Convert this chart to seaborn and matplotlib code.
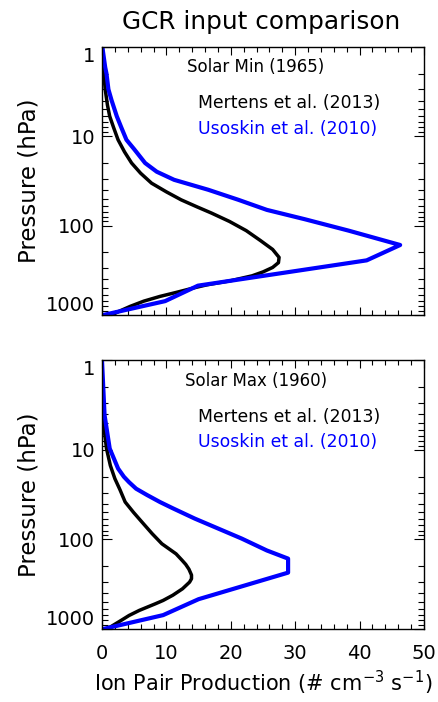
import numpy as np
import pandas as pd
import matplotlib
matplotlib.use("Agg")
import matplotlib.pyplot as plt
import seaborn as sns
from matplotlib import ticker

# Solar minimum (1965)
min_mertens_p = [1, 1.7, 3.0, 4.5, 6.0, 8.0, 11, 15, 20, 26, 33.6, 42, 51.6, 62, 72.5, 90, 114,
                 147, 185, 227, 260, 294, 330, 365, 415, 460, 493, 560, 620, 700, 800, 900, 1000]
min_mertens_ipp = [0.05, 0.2, 0.5, 0.85, 1.2, 1.8, 2.5, 3.5, 4.6, 6.0, 7.7, 10.0, 12.3, 14.8,
                   17.0, 19.8, 22.4, 24.6, 26.5, 27.5, 27.4, 26.5, 25.0, 23.3, 19.9, 16.3, 14.5,
                   11.5, 9.0, 6.5, 4.4, 2.8, 1.5]
min_usoskin_p = [1, 1.7, 2.0, 3.0, 4.0, 6.0, 8.0, 11, 14, 20, 25, 30.8, 39.8, 51.6, 66.8, 85,
                 114, 165, 245, 470, 700, 1000]
min_usoskin_ipp = [0.05, 0.5, 0.7, 1.0, 1.5, 2.3, 3.0, 3.8, 5.0, 6.7, 8.5, 11.2, 16.5, 21.2,
                   25.6, 31.5, 38.3, 46.3, 41.1, 14.9, 9.8, 0.2]

# Solar maximum (1960)
max_mertens_p = [1, 2.8, 4.1, 6.0, 9.7, 15, 21, 28, 38.3, 50, 64, 86.5, 112, 145, 170, 190,
                 215, 250, 275, 300, 356, 420, 480, 523, 620, 707, 800, 950, 1000]
max_mertens_ipp = [0, 0.05, 0.1, 0.35, 0.7, 1.3, 2.0, 2.8, 3.6, 4.9, 6.2, 7.8, 9.3, 11.5, 12.4,
                   13.0, 13.5, 13.9, 13.9, 13.6, 12.5, 11.0, 9.5, 8.3, 5.8, 4.2, 3.0, 1.3, 0.8]
max_usoskin_p = [1, 4.1, 9.7, 16.2, 20, 23, 27.2, 32, 38.3, 45, 58.6, 98, 133, 164, 235, 465,
                 700, 1000]
max_usoskin_ipp = [0, 0.4, 1.2, 2.5, 3.4, 4.2, 5.3, 7.0, 9.0, 11.0, 14.4, 21.7, 25.6, 28.9,
                   28.9, 15.0, 9.5, 0.2]

panel_titles = ["Solar Min (1965)", "Solar Max (1960)"]
y_ticks = [1, 10, 100, 1000]
x_ticks = [0, 10, 20, 30, 40, 50]

sns.set_style("ticks")
plt.rcParams["font.family"] = ["DejaVu Sans"]
plt.rcParams["text.color"] = "black"
plt.rcParams["axes.labelcolor"] = "black"
plt.rcParams["xtick.color"] = "black"
plt.rcParams["ytick.color"] = "black"

fig = plt.figure(figsize=(4.39, 7.02), dpi=100)
ax_top = fig.add_axes([0.2323, 0.5513, 0.7335, 0.3822])
ax_bot = fig.add_axes([0.2323, 0.104, 0.7335, 0.383])

panels = [
    (ax_top, min_mertens_p, min_mertens_ipp, min_usoskin_p, min_usoskin_ipp),
    (ax_bot, max_mertens_p, max_mertens_ipp, max_usoskin_p, max_usoskin_ipp),
]

for i, (ax, mp, mv, up, uv) in enumerate(panels):
    mert = pd.DataFrame({"pressure": mp, "ipp": mv})
    usos = pd.DataFrame({"pressure": up, "ipp": uv})
    sns.lineplot(data=mert, x="ipp", y="pressure", sort=False, estimator=None,
                 color="black", linewidth=2.5, ax=ax)
    sns.lineplot(data=usos, x="ipp", y="pressure", sort=False, estimator=None,
                 color="#0000ff", linewidth=3.0, ax=ax)

    ax.set_yscale("log")
    ax.set_ylim(1000, 1)
    ax.set_xlim(0, 50)
    ax.set_yticks(y_ticks)
    ax.yaxis.set_major_formatter(ticker.FuncFormatter(lambda v, pos: f"{v:g}"))
    ax.yaxis.set_minor_locator(ticker.LogLocator(base=10, subs=np.arange(2, 10)))
    ax.yaxis.set_minor_formatter(ticker.NullFormatter())
    ax.set_xticks(x_ticks)
    ax.xaxis.set_minor_locator(ticker.MultipleLocator(2))

    ax.tick_params(axis="both", which="both", direction="in", top=True, right=True,
                   width=0.8, colors="black")
    ax.tick_params(axis="y", which="major", length=7.5, labelsize=14, pad=5)
    ax.tick_params(axis="y", which="minor", length=4)
    ax.tick_params(axis="x", which="major", length=5.5, labelsize=14, pad=11)
    ax.tick_params(axis="x", which="minor", length=3.5)
    for sp in ax.spines.values():
        sp.set_linewidth(1.0)
        sp.set_color("black")

    labels = ax.get_yticklabels()
    labels[0].set_va("top")
    labels[-1].set_va("bottom")

    ax.set_ylabel("Pressure (hPa)", fontsize=16.5, labelpad=4)
    if i == 0:
        ax.set_xlabel("")
        ax.tick_params(axis="x", labelbottom=False)
    else:
        ax.set_xlabel("Ion Pair Production (# cm$^{-3}$ s$^{-1}$)", fontsize=15, labelpad=4)

    ax.text(0.478, 0.924, panel_titles[i], transform=ax.transAxes, ha="center",
            va="center", fontsize=12, color="black")
    ax.text(0.298, 0.79, "Mertens et al. (2013)", transform=ax.transAxes, ha="left",
            va="center", fontsize=12.4, color="black")
    ax.text(0.298, 0.695, "Usoskin et al. (2010)", transform=ax.transAxes, ha="left",
            va="center", fontsize=12.4, color="#0000ff")

fig.text(0.595, 0.969, "GCR input comparison", ha="center", va="center", fontsize=17.8,
         color="black")

fig.savefig("out.png", dpi=100)
